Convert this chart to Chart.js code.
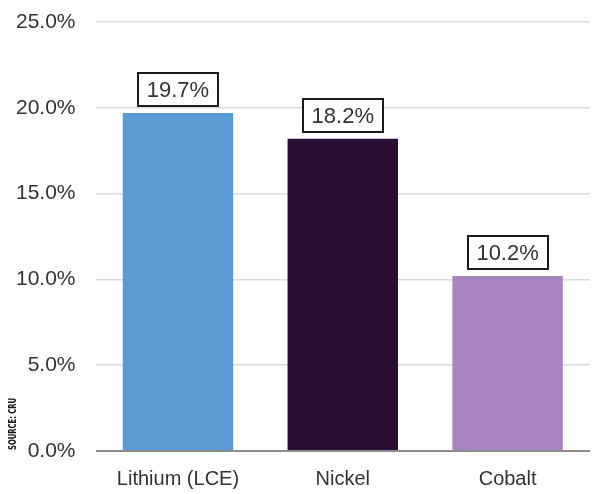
<!DOCTYPE html>
<html>
<head>
<meta charset="utf-8">
<script src="https://cdn.jsdelivr.net/npm/chart.js@4"></script>
<style>
  html, body { margin: 0; padding: 0; background: #fff; }
  #wrap { width: 592px; height: 494px; position: relative; }
</style>
</head>
<body>
<div id="wrap"><canvas id="canvas"></canvas></div>
<script>
const metals = ['Lithium (LCE)', 'Nickel', 'Cobalt']
const growth = [19.7, 18.2, 10.2]
const barColors = ['#5b9bd5', '#2a0f35', '#a886c0']
const sourceNote = 'SOURCE: CRU'

const FONT = '"Liberation Sans", Arial, sans-serif'

// boxed value labels above each bar
const boxLabels = {
  id: 'boxLabels',
  afterDatasetsDraw(chart) {
    const ctx = chart.ctx
    const meta = chart.getDatasetMeta(0)
    ctx.save()
    ctx.font = '22px ' + FONT
    ctx.textAlign = 'center'
    ctx.textBaseline = 'middle'
    meta.data.forEach((bar, i) => {
      const text = growth[i].toFixed(1) + '%'
      const w = Math.round(ctx.measureText(text).width + 18)
      const h = 33
      const x = Math.round(bar.x - w / 2)
      const y = Math.round(bar.y - 7 - h)
      ctx.fillStyle = '#fff'
      ctx.fillRect(x, y, w, h)
      ctx.lineWidth = 2
      ctx.strokeStyle = '#1a1a1a'
      ctx.strokeRect(x, y, w, h)
      ctx.fillStyle = '#333'
      ctx.fillText(text, bar.x, y + h / 2 + 1)
    })
    ctx.restore()
  }
}

// rotated source note in the lower left corner
const sourceText = {
  id: 'sourceText',
  afterDraw(chart) {
    const ctx = chart.ctx
    ctx.save()
    ctx.translate(13.5, 424)
    ctx.rotate(-Math.PI / 2)
    ctx.font = 'bold 10.5px "DejaVu Sans Condensed", "Liberation Sans Narrow", sans-serif'
    const tw = ctx.measureText(sourceNote).width
    ctx.scale(52 / tw, 1)
    ctx.fillStyle = '#111'
    ctx.textAlign = 'center'
    ctx.textBaseline = 'middle'
    ctx.fillText(sourceNote, 0, 0)
    ctx.restore()
  }
}

new Chart(document.getElementById('canvas'), {
  type: 'bar',
  data: {
    labels: metals,
    datasets: [{
      data: growth,
      backgroundColor: barColors,
      barPercentage: 0.67,
      categoryPercentage: 1
    }]
  },
  options: {
    responsive: true,
    maintainAspectRatio: false,
    animation: false,
    layout: { padding: { left: 16, right: 2, top: 22, bottom: -5 } },
    plugins: {
      legend: { display: false },
      tooltip: { enabled: false }
    },
    scales: {
      x: {
        grid: { display: false },
        border: { display: false },
        ticks: { color: '#333', font: { family: FONT, size: 20 }, padding: 8 }
      },
      y: {
        min: 0,
        max: 25,
        border: { display: false },
        grid: {
          color: ctx => ctx.tick.value === 0 ? '#8c8c8c' : '#dcdcdc',
          lineWidth: ctx => ctx.tick.value === 0 ? 2 : 1.5,
          // invisible tick marks keep the gap between labels and grid
          tickLength: 20,
          tickColor: 'transparent'
        },
        ticks: {
          stepSize: 5,
          color: '#333',
          padding: 0,
          font: { family: FONT, size: 21 },
          callback: v => v.toFixed(1) + '%'
        }
      }
    }
  },
  plugins: [boxLabels, sourceText]
})
</script>
</body>
</html>
